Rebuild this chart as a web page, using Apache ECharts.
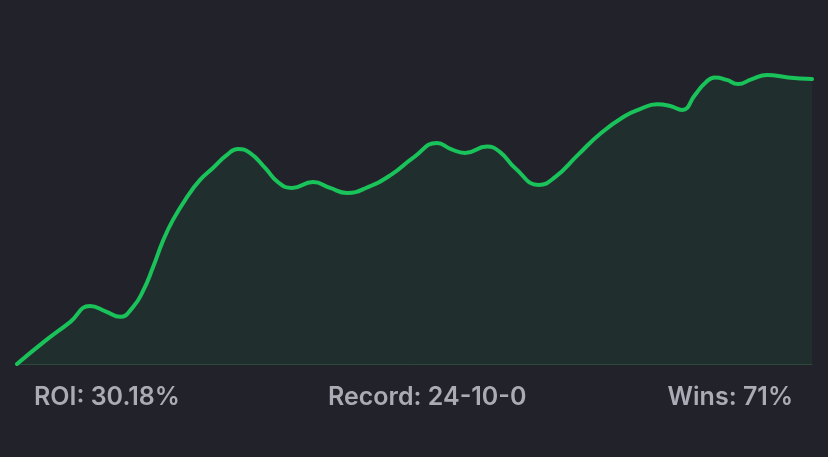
<!DOCTYPE html>
<html>
<head>
<meta charset="utf-8">
<script src="https://cdn.jsdelivr.net/npm/echarts@6/dist/echarts.min.js"></script>
<style>
  html, body { margin: 0; padding: 0; background: #22222b; }
  #chart { width: 828px; height: 457px; }
</style>
</head>
<body>
<div id="chart"></div>
<script>
// Bet progression (x) and cumulative profit in units (y)
const betProgress = [0, 1.11, 2.27, 3.12, 3.81, 4.41, 4.96, 5.39, 5.82, 6.24, 6.67, 7.27, 7.83, 8.38, 8.98, 9.45, 9.96, 10.61, 11.16, 11.76, 12.66, 13.39, 14.11, 15.01, 15.99, 16.98, 17.96, 18.56, 19.16, 20.10, 20.66, 21.30, 22.32, 23.01, 23.99, 24.98, 26.00, 26.64, 27.37, 27.93, 28.45, 29.00, 29.43, 29.85, 30.36, 30.83, 31.43, 32.08, 32.97, 34];
const profitUnits = [0, 0.77, 1.51, 2.09, 1.89, 1.70, 2.05, 2.63, 3.49, 4.43, 5.19, 6.01, 6.63, 7.06, 7.53, 7.74, 7.60, 7.06, 6.55, 6.34, 6.55, 6.34, 6.16, 6.37, 6.81, 7.45, 7.96, 7.74, 7.60, 7.83, 7.63, 7.06, 6.45, 6.73, 7.53, 8.32, 8.93, 9.18, 9.35, 9.29, 9.15, 9.69, 10.12, 10.32, 10.23, 10.08, 10.26, 10.41, 10.32, 10.26];
const statLabels = ['ROI: 30.18%', 'Record: 24-10-0', 'Wins: 71%'];

const seriesData = betProgress.map((x, i) => [x, profitUnits[i]]);

const chart = echarts.init(document.getElementById('chart'), null, { renderer: 'canvas' });
const textStyleBase = {
  fill: '#ababb6',
  fontSize: 25,
  fontWeight: 600,
  fontFamily: 'Inter, Roboto, sans-serif'
};
chart.setOption({
  backgroundColor: '#22222b',
  animation: false,
  grid: { left: 17, right: 16, top: 3, bottom: 93 },
  xAxis: {
    type: 'value', min: 0, max: 34,
    axisLine: { show: true, lineStyle: { color: '#2b4a3a', width: 1 } },
    axisTick: { show: false }, axisLabel: { show: false }, splitLine: { show: false }
  },
  yAxis: {
    type: 'value', min: 0, max: 13,
    axisLine: { show: false }, axisTick: { show: false }, axisLabel: { show: false }, splitLine: { show: false }
  },
  series: [{
    type: 'line',
    data: seriesData,
    smooth: 0.5,
    symbol: 'none',
    lineStyle: { color: '#19c35a', width: 4, cap: 'round', join: 'round' },
    areaStyle: { color: 'rgba(25,195,90,0.11)' }
  }],
  graphic: [
    { type: 'text', left: 34, top: 385, style: Object.assign({ text: statLabels[0] }, textStyleBase) },
    { type: 'text', left: 328, top: 385, style: Object.assign({ text: statLabels[1] }, textStyleBase) },
    { type: 'text', right: 35, top: 385, style: Object.assign({ text: statLabels[2] }, textStyleBase) }
  ]
});
</script>
</body>
</html>
